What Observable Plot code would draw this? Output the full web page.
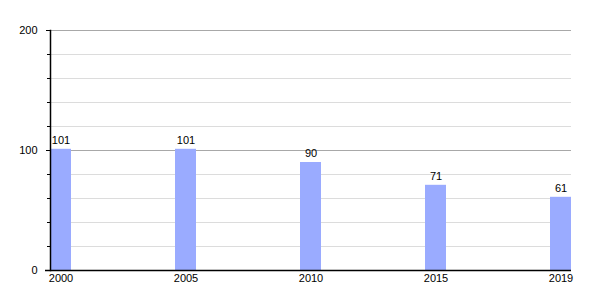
<!DOCTYPE html>
<html>
<head>
<meta charset="utf-8">
<script src="https://cdn.jsdelivr.net/npm/d3@7"></script>
<script src="https://cdn.jsdelivr.net/npm/@observablehq/plot@0.6"></script>
<style>
body { margin: 0; background: #fff; }
svg { font-family: "Liberation Sans", Arial, sans-serif; }
</style>
</head>
<body>
<div id="chart"></div>
<script>
const years = ["2000", "2005", "2010", "2015", "2019"];
const values = [101, 101, 90, 71, 61];
const majorTicks = [0, 100, 200];
const minorTicks = [20, 40, 60, 80, 120, 140, 160, 180];

const data = years.map((y, i) => ({year: y, value: values[i]}));

const chart = Plot.plot({
  width: 600,
  height: 300,
  marginLeft: 50,
  marginRight: 29,
  marginTop: 30,
  marginBottom: 30,
  style: {fontFamily: "Liberation Sans, Arial, sans-serif", fontSize: "11px", background: "#fff"},
  x: {domain: years, paddingInner: 0.832, paddingOuter: 0, label: null},
  y: {domain: [0, 200], label: null},
  marks: [
    Plot.ruleY(minorTicks, {stroke: "#dcdcdc", strokeWidth: 1, strokeOpacity: 1}),
    Plot.ruleY([100, 200], {stroke: "#a8a8a8", strokeWidth: 1, strokeOpacity: 1, insetLeft: -4}),
    Plot.barY(data, {x: "year", y: "value", fill: "#9aabff", insetLeft: 0, insetRight: 0}),
    Plot.text(data, {x: "year", y: "value", text: d => String(d.value), dy: -9, fill: "#000", fontSize: 11}),
    Plot.axisY(majorTicks, {tickSize: 4, tickPadding: 9, fontSize: 11, color: "#000", strokeOpacity: 1}),
    Plot.axisY(minorTicks, {tickSize: 3, tickFormat: () => "", strokeOpacity: 1, color: "#000"}),
    Plot.axisX({tickSize: 0, tickPadding: 4, fontSize: 11, color: "#000"}),
    Plot.ruleY([0], {stroke: "#000", strokeWidth: 1.5, insetLeft: -5}),
    Plot.frame({anchor: "left", stroke: "#000", strokeWidth: 1.5})
  ]
});
document.getElementById("chart").appendChild(chart);
</script>
</body>
</html>
